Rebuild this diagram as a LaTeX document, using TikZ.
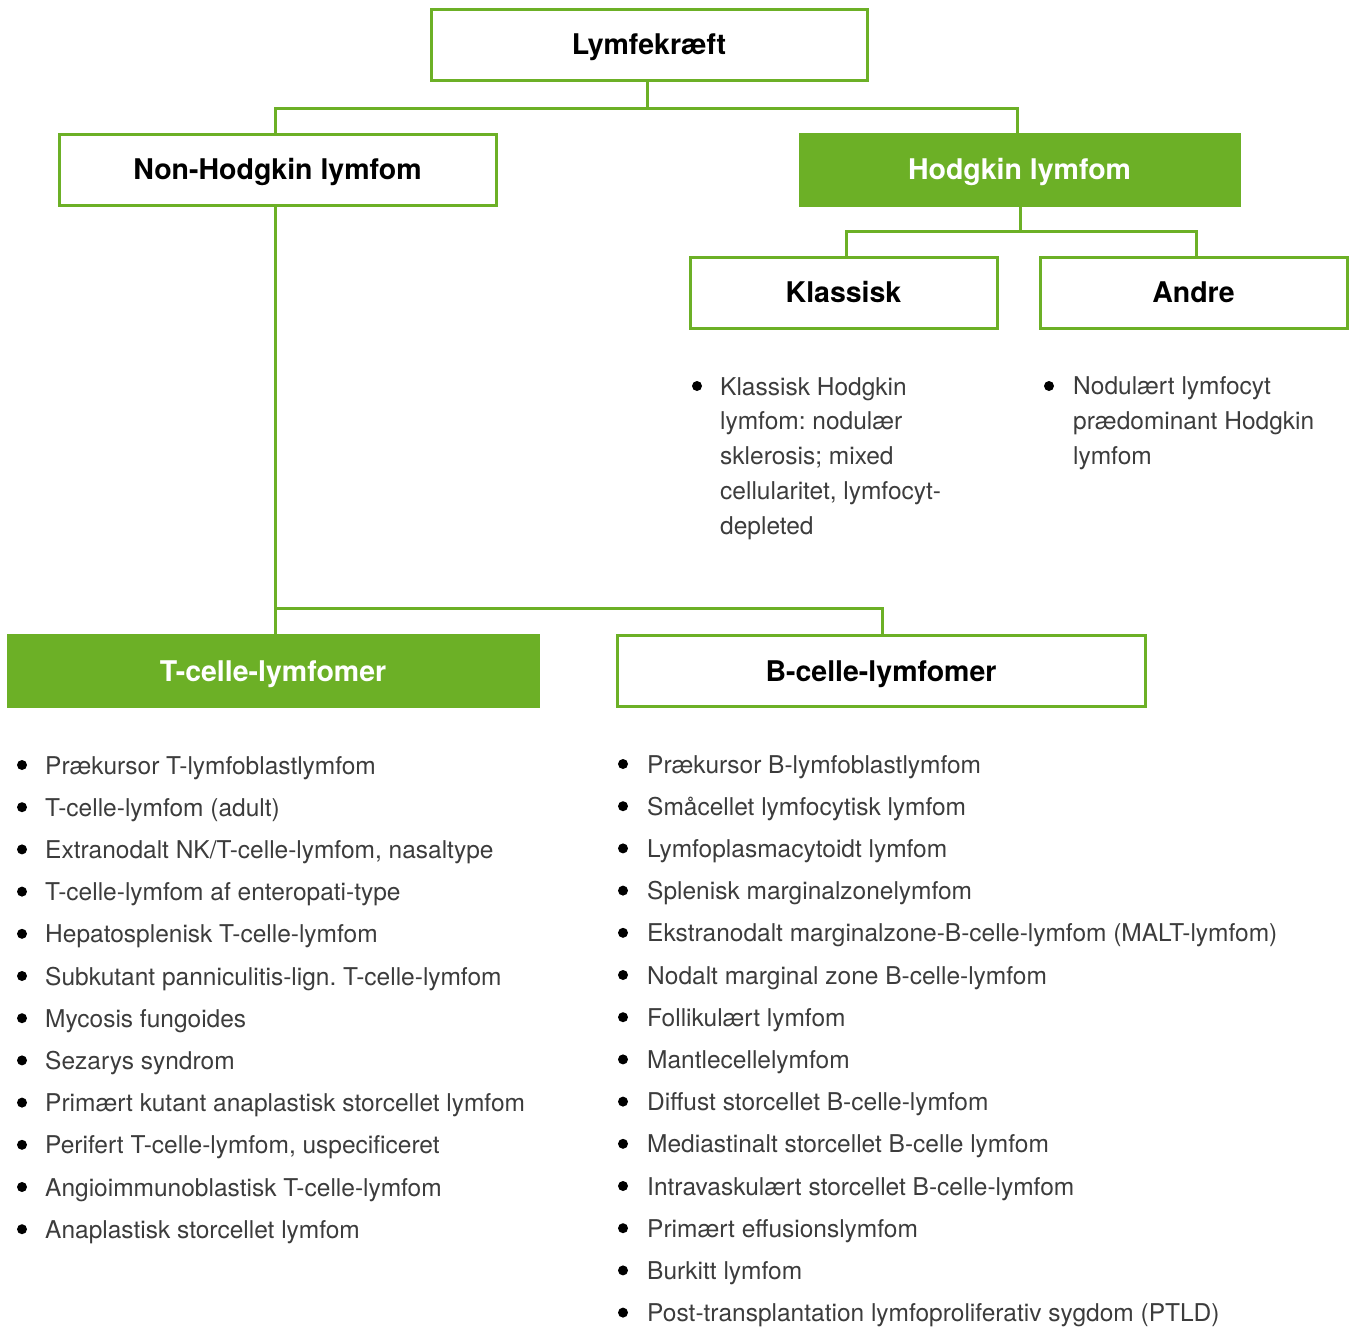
\documentclass[tikz,border=0pt]{standalone}
\usepackage{fontspec}
\setmainfont{TeX Gyre Heros}
\usetikzlibrary{positioning}
\definecolor{lgreen}{RGB}{108,176,38}
\definecolor{listgray}{RGB}{60,60,60}
\frenchspacing
\tikzset{
  x=1pt, y=-1pt,
  hbox/.style={rectangle, draw=lgreen, line width=3pt, fill=white, minimum height=71pt, text height=22pt, text depth=2pt, font=\fontsize{28.5}{32}\selectfont\bfseries, text=black},
  hfill/.style={hbox, fill=lgreen, text=white},
  link/.style={draw=lgreen, line width=3pt},
  item/.style={anchor=base west, inner sep=0pt, font=\fontsize{24.5}{34.7}\selectfont, text=listgray, align=left},
  dot/.style={fill=black}
}
\begin{document}
\begin{tikzpicture}
\useasboundingbox (0,0) rectangle (1352,1326);

% top level
\node (root) [hbox, minimum width=436pt] at (649,44.5) {Lymfekræft};
\node (nhl) [hbox, minimum width=437pt] at (277.5,169.5) {Non-Hodgkin lymfom};
\node (hl) [hfill, minimum width=439pt] at (1019.5,169.5) {Hodgkin lymfom};

% hodgkin subtypes
\node (klas) [hbox, minimum width=307pt] at (843.5,292.5) {Klassisk};
\node (andre) [hbox, minimum width=307pt] at (1193.5,292.5) {Andre};

% non-hodgkin subtypes
\node (tcell) [hfill, minimum width=530pt] at (273,671) {T-celle-lymfomer};
\node (bcell) [hbox, minimum width=528pt] at (881,671) {B-celle-lymfomer};

% connectors
\coordinate (j1) at (647,108);
\coordinate (j2) at (1020,231);
\coordinate (j3) at (275,608);
\draw[link] (root.south -| j1) -- (j1);
\draw[link] (nhl.north -| 275,0) |- (j1) -| (hl.north -| 1017,0);
\draw[link] (hl.south -| j2) -- (j2);
\draw[link] (klas.north -| 846,0) |- (j2) -| (andre.north -| 1196,0);
\draw[link] (nhl.south -| j3) -- (tcell.north -| j3);
\draw[link] (j3) -| (bcell.north -| 882,0);

% klassisk / andre lists (anchored at last line)
\fill[dot] (697,386) circle (5pt);
\node (klastxt) [item] at (720,534) {Klassisk Hodgkin\\lymfom: nodulær\\sklerosis; mixed\\cellularitet, lymfocyt-\\depleted};
\fill[dot] (1049,386) circle (5pt);
\node (andretxt) [item] at (1073,464) {Nodulært lymfocyt\\prædominant Hodgkin\\lymfom};

% T-celle list
\foreach \txt [count=\i from 0] in {Prækursor T-lymfoblastlymfom, T-celle-lymfom (adult),
  {Extranodalt NK/T-celle-lymfom, nasaltype}, T-celle-lymfom af enteropati-type,
  Hepatosplenisk T-celle-lymfom, Subkutant panniculitis-lign. T-celle-lymfom,
  Mycosis fungoides, Sezarys syndrom, Primært kutant anaplastisk storcellet lymfom,
  {Perifert T-celle-lymfom, uspecificeret}, Angioimmunoblastisk T-celle-lymfom,
  Anaplastisk storcellet lymfom}
{
  \fill[dot] (22,765+42.2*\i) circle (5pt);
  \node (t\i) [item] at (45,774+42.2*\i) {\txt};
}

% B-celle list
\foreach \txt [count=\i from 0] in {Prækursor B-lymfoblastlymfom, Småcellet lymfocytisk lymfom,
  Lymfoplasmacytoidt lymfom, Splenisk marginalzonelymfom,
  Ekstranodalt marginalzone-B-celle-lymfom (MALT-lymfom), Nodalt marginal zone B-celle-lymfom,
  Follikulært lymfom, Mantlecellelymfom, Diffust storcellet B-celle-lymfom,
  Mediastinalt storcellet B-celle lymfom, Intravaskulært storcellet B-celle-lymfom,
  Primært effusionslymfom, Burkitt lymfom, Post-transplantation lymfoproliferativ sygdom (PTLD)}
{
  \fill[dot] (623,764+42.2*\i) circle (5pt);
  \node (b\i) [item] at (647,773+42.2*\i) {\txt};
}
\end{tikzpicture}
\end{document}
